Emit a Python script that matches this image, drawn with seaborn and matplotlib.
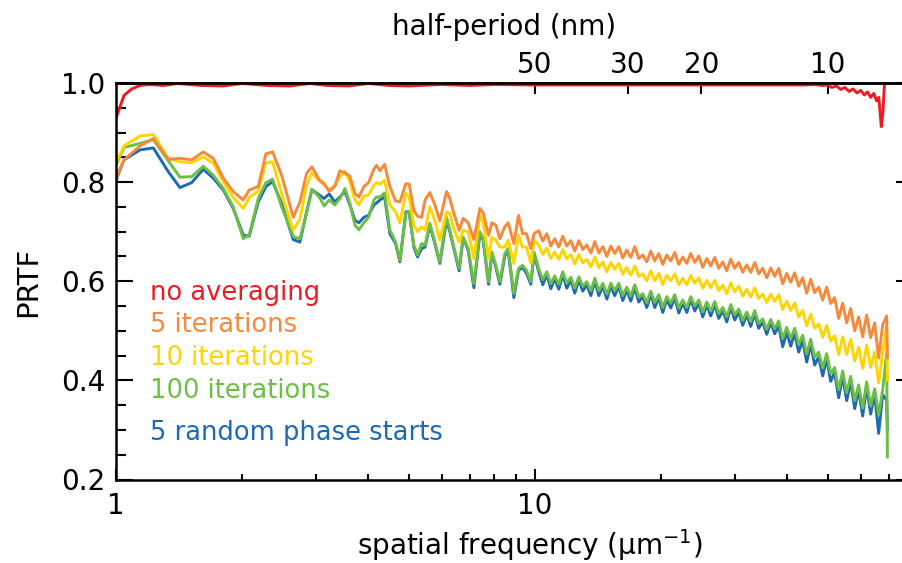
import numpy as np
import pandas as pd
import matplotlib
matplotlib.use("Agg")
import matplotlib.pyplot as plt
import seaborn as sns
from matplotlib.ticker import NullLocator, NullFormatter

# ---------------- data ----------------
freq = [
    1.000, 1.045, 1.141, 1.228, 1.333, 1.421, 1.516, 1.616, 1.707, 1.804,
    1.905, 2.013, 2.080, 2.186, 2.280, 2.366, 2.486,
    2.650, 2.749, 2.852, 2.936, 3.056, 3.141, 3.229, 3.332, 3.425, 3.520,
    3.618, 3.720, 3.802, 3.907, 4.009, 4.128, 4.190, 4.267, 4.379, 4.508,
    4.652, 4.763, 4.922, 5.012, 5.143, 5.249, 5.366, 5.471, 5.614, 5.772,
    5.933, 6.156,
    6.268, 6.408, 6.597, 6.744, 6.931, 7.154, 7.394, 7.529, 7.756, 7.898,
    8.073, 8.253, 8.481, 8.637, 8.912, 9.145, 9.346, 9.554, 9.783, 9.961,
    10.22, 10.45, 10.68, 10.92, 11.16, 11.41, 11.66, 11.92, 12.19, 12.46,
    12.74, 13.02, 13.31, 13.61, 13.91, 14.22, 14.54, 14.86, 15.19, 15.52,
    15.87, 16.22, 16.58, 16.95, 17.33, 17.71, 18.11, 18.51, 18.92, 19.34,
    19.77, 20.21, 20.66, 21.12, 21.59, 22.07, 22.56, 23.06, 23.57, 24.10,
    24.63, 25.18, 25.74, 26.31, 26.90, 27.49, 28.11, 28.73, 29.37, 30.02,
    30.69, 31.37, 32.07, 32.78, 33.51, 34.25, 35.02, 35.79, 36.59, 37.40,
    38.23, 39.08, 39.95, 40.84, 41.75, 42.67, 43.62, 44.59, 45.58, 46.59,
    47.63, 48.69, 49.77, 50.87, 52.00, 53.16, 54.34, 55.55, 56.78, 58.05,
    59.34, 60.66, 62.00, 63.38, 64.79, 66.23, 67.70, 69.21, 69.50,
]

prtf_5_iterations = [
    0.808, 0.845, 0.873, 0.888, 0.846, 0.848, 0.845, 0.861, 0.848, 0.808,
    0.781, 0.764, 0.784, 0.791, 0.857, 0.861, 0.814,
    0.729, 0.760, 0.818, 0.831, 0.805, 0.797, 0.781, 0.792, 0.823, 0.819,
    0.812, 0.777, 0.770, 0.791, 0.799, 0.826, 0.834, 0.823, 0.836, 0.791,
    0.762, 0.760, 0.797, 0.796, 0.743, 0.731, 0.729, 0.764, 0.779, 0.754,
    0.722, 0.781,
    0.767, 0.737, 0.703, 0.727, 0.718, 0.684, 0.747, 0.738, 0.693, 0.718,
    0.713, 0.686, 0.710, 0.718, 0.676, 0.733, 0.696, 0.696, 0.666, 0.696,
    0.702, 0.681, 0.696, 0.671, 0.686, 0.669, 0.691, 0.671, 0.682, 0.661,
    0.682, 0.664, 0.673, 0.657, 0.680, 0.657, 0.670, 0.650, 0.671, 0.656,
    0.670, 0.647, 0.663, 0.648, 0.670, 0.646, 0.653, 0.639, 0.661, 0.641,
    0.656, 0.634, 0.653, 0.641, 0.658, 0.634, 0.649, 0.636, 0.656, 0.638,
    0.651, 0.628, 0.646, 0.631, 0.648, 0.626, 0.639, 0.621, 0.645, 0.626,
    0.638, 0.618, 0.633, 0.618, 0.638, 0.615, 0.626, 0.607, 0.627, 0.610,
    0.626, 0.595, 0.616, 0.598, 0.617, 0.590, 0.607, 0.576, 0.604, 0.577,
    0.588, 0.562, 0.588, 0.555, 0.567, 0.525, 0.556, 0.516, 0.545, 0.500,
    0.528, 0.488, 0.532, 0.486, 0.516, 0.445, 0.512, 0.530, 0.445,
]

prtf_10_iterations = [
    0.838, 0.873, 0.893, 0.896, 0.848, 0.841, 0.839, 0.851, 0.838, 0.801,
    0.769, 0.747, 0.769, 0.782, 0.839, 0.841, 0.777,
    0.703, 0.725, 0.794, 0.818, 0.803, 0.794, 0.784, 0.794, 0.811, 0.821,
    0.801, 0.764, 0.754, 0.772, 0.774, 0.794, 0.799, 0.796, 0.804, 0.754,
    0.740, 0.718, 0.778, 0.770, 0.713, 0.700, 0.710, 0.703, 0.750, 0.723,
    0.683, 0.740,
    0.737, 0.706, 0.679, 0.703, 0.700, 0.646, 0.733, 0.720, 0.646, 0.689,
    0.683, 0.669, 0.669, 0.683, 0.636, 0.693, 0.669, 0.669, 0.636, 0.683,
    0.673, 0.654, 0.667, 0.646, 0.659, 0.644, 0.664, 0.645, 0.654, 0.635,
    0.654, 0.637, 0.644, 0.629, 0.649, 0.627, 0.639, 0.619, 0.638, 0.624,
    0.636, 0.614, 0.628, 0.612, 0.631, 0.610, 0.615, 0.601, 0.621, 0.601,
    0.616, 0.593, 0.612, 0.601, 0.615, 0.593, 0.606, 0.593, 0.612, 0.596,
    0.607, 0.586, 0.602, 0.587, 0.602, 0.581, 0.592, 0.575, 0.597, 0.579,
    0.590, 0.570, 0.584, 0.568, 0.587, 0.565, 0.574, 0.557, 0.574, 0.559,
    0.573, 0.543, 0.560, 0.541, 0.556, 0.528, 0.541, 0.510, 0.534, 0.505,
    0.514, 0.487, 0.511, 0.479, 0.490, 0.452, 0.488, 0.452, 0.483, 0.439,
    0.467, 0.424, 0.471, 0.426, 0.457, 0.395, 0.455, 0.510, 0.400,
]

prtf_100_iterations = [
    0.834, 0.870, 0.878, 0.886, 0.843, 0.810, 0.811, 0.832, 0.814, 0.787,
    0.750, 0.686, 0.693, 0.767, 0.799, 0.806, 0.750,
    0.690, 0.686, 0.737, 0.785, 0.770, 0.752, 0.764, 0.754, 0.767, 0.787,
    0.757, 0.713, 0.704, 0.718, 0.729, 0.764, 0.770, 0.770, 0.778, 0.703,
    0.679, 0.642, 0.737, 0.740, 0.673, 0.653, 0.676, 0.673, 0.717, 0.679,
    0.639, 0.729,
    0.703, 0.669, 0.626, 0.689, 0.666, 0.595, 0.700, 0.686, 0.599, 0.659,
    0.632, 0.599, 0.656, 0.666, 0.575, 0.626, 0.632, 0.622, 0.599, 0.659,
    0.625, 0.603, 0.619, 0.595, 0.611, 0.594, 0.619, 0.596, 0.608, 0.586,
    0.609, 0.590, 0.599, 0.581, 0.606, 0.581, 0.596, 0.574, 0.596, 0.581,
    0.596, 0.571, 0.588, 0.570, 0.593, 0.568, 0.575, 0.557, 0.580, 0.557,
    0.573, 0.547, 0.569, 0.556, 0.573, 0.546, 0.562, 0.547, 0.569, 0.550,
    0.562, 0.538, 0.558, 0.540, 0.559, 0.535, 0.547, 0.528, 0.553, 0.532,
    0.544, 0.521, 0.538, 0.519, 0.541, 0.515, 0.524, 0.503, 0.523, 0.504,
    0.520, 0.484, 0.507, 0.485, 0.505, 0.473, 0.491, 0.453, 0.483, 0.447,
    0.457, 0.425, 0.454, 0.414, 0.426, 0.381, 0.419, 0.375, 0.408, 0.359,
    0.391, 0.344, 0.397, 0.348, 0.383, 0.330, 0.381, 0.455, 0.245,
]

prtf_5_random_starts = [
    0.804, 0.845, 0.865, 0.869, 0.821, 0.789, 0.799, 0.826, 0.808, 0.784,
    0.747, 0.693, 0.691, 0.760, 0.791, 0.801, 0.757,
    0.684, 0.679, 0.740, 0.785, 0.774, 0.767, 0.776, 0.760, 0.770, 0.781,
    0.754, 0.723, 0.718, 0.729, 0.733, 0.754, 0.758, 0.764, 0.770, 0.696,
    0.676, 0.639, 0.740, 0.740, 0.669, 0.649, 0.666, 0.669, 0.713, 0.676,
    0.636, 0.723,
    0.700, 0.666, 0.621, 0.688, 0.663, 0.587, 0.696, 0.683, 0.594, 0.656,
    0.628, 0.594, 0.651, 0.663, 0.567, 0.622, 0.628, 0.616, 0.594, 0.655,
    0.619, 0.593, 0.613, 0.585, 0.605, 0.584, 0.613, 0.586, 0.602, 0.576,
    0.603, 0.580, 0.593, 0.571, 0.600, 0.571, 0.590, 0.564, 0.590, 0.571,
    0.590, 0.561, 0.582, 0.560, 0.587, 0.558, 0.569, 0.547, 0.574, 0.547,
    0.567, 0.537, 0.563, 0.546, 0.567, 0.536, 0.556, 0.537, 0.563, 0.540,
    0.556, 0.528, 0.552, 0.530, 0.553, 0.525, 0.541, 0.518, 0.547, 0.522,
    0.538, 0.511, 0.532, 0.509, 0.535, 0.505, 0.518, 0.493, 0.517, 0.494,
    0.510, 0.468, 0.497, 0.469, 0.495, 0.457, 0.481, 0.437, 0.473, 0.431,
    0.447, 0.409, 0.444, 0.398, 0.416, 0.365, 0.409, 0.359, 0.398, 0.343,
    0.381, 0.328, 0.387, 0.332, 0.373, 0.293, 0.371, 0.360, 0.300,
]

freq_no_averaging = [
    1.000, 1.045, 1.090, 1.141, 1.200, 1.300, 1.400, 1.600, 1.800, 2.000,
    2.300, 2.600, 2.900, 3.200, 3.600, 4.000, 4.500, 5.000, 6.000, 7.000,
    8.000, 10.00, 13.00, 16.00, 20.00, 25.00, 30.00, 35.00, 40.00, 44.00,
    47.00, 48.50, 50.00, 51.20, 52.50, 53.80, 55.00, 56.30, 57.50, 58.80,
    60.00, 61.20, 62.30, 63.40, 64.50, 65.50, 66.30, 67.20, 67.80, 68.40,
    69.50,
]
prtf_no_averaging = [
    0.929, 0.975, 0.988, 0.995, 0.997, 0.995, 0.999, 0.995, 0.994, 0.999,
    0.995, 0.994, 0.999, 0.995, 0.994, 0.999, 0.995, 0.994, 0.997, 0.995,
    0.997, 0.996, 0.996, 0.996, 0.996, 0.996, 0.996, 0.996, 0.996, 0.996,
    0.997, 0.995, 0.996, 0.991, 0.994, 0.987, 0.991, 0.983, 0.988, 0.980,
    0.985, 0.976, 0.982, 0.971, 0.979, 0.964, 0.971, 0.912, 0.940, 0.999,
    0.999,
]

series_names = ["no averaging", "5 iterations", "10 iterations",
                "100 iterations", "5 random phase starts"]
series_colors = ["#ED1C24", "#F7893B", "#FFD500", "#6DBE45", "#1B6AB3"]

halfperiod_ticks_nm = [50, 30, 20, 10]
x_major = [1, 10]
x_minor = [2, 3, 4, 5, 6, 7, 8, 9, 20, 30, 40, 50, 60, 70, 80]
y_major = [0.2, 0.4, 0.6, 0.8, 1.0]
y_minor = [0.25, 0.3, 0.35, 0.45, 0.5, 0.55, 0.65, 0.7, 0.75, 0.85, 0.9, 0.95]

# ---------------- build long table ----------------
frames = [pd.DataFrame({"freq": freq_no_averaging, "prtf": prtf_no_averaging,
                        "series": series_names[0]})]
for name, vals in zip(series_names[1:], [prtf_5_iterations, prtf_10_iterations,
                                         prtf_100_iterations, prtf_5_random_starts]):
    assert len(vals) == len(freq), (name, len(vals), len(freq))
    frames.append(pd.DataFrame({"freq": freq, "prtf": vals, "series": name}))
df = pd.concat(frames, ignore_index=True)

palette = dict(zip(series_names, series_colors))
draw_order = ["5 random phase starts", "100 iterations", "10 iterations",
              "5 iterations", "no averaging"]

# ---------------- style ----------------
sns.set_theme(style="ticks")
plt.rcParams["font.family"] = ["DejaVu Sans"]
plt.rcParams["axes.linewidth"] = 1.8
plt.rcParams["axes.edgecolor"] = "black"

W, H = 902, 563
fig = plt.figure(figsize=(W / 100, H / 100), dpi=100)
ax_left, ax_right, ax_top, ax_bottom = 116, 913, 83, 479.5
ax = fig.add_axes([ax_left / W, (H - ax_bottom) / H,
                   (ax_right - ax_left) / W, (ax_bottom - ax_top) / H])

sns.lineplot(data=df, x="freq", y="prtf", hue="series", hue_order=draw_order,
             palette=palette, estimator=None, linewidth=2.1, legend=False, ax=ax)

ax.set_xscale("log")
ax.set_xlim(1, 80)
ax.set_ylim(0.2, 1.0)

ax.set_xticks(x_major, [str(v) for v in x_major])
ax.set_xticks(x_minor, minor=True)
ax.xaxis.set_minor_formatter(NullFormatter())
ax.set_yticks(y_major, [f"{v:.1f}" for v in y_major])
ax.set_yticks(y_minor, minor=True)

ax.tick_params(axis="x", which="both", direction="in", top=False, bottom=True,
               width=1.5, labelsize=20, pad=9, colors="black")
ax.tick_params(axis="x", which="major", length=8)
ax.tick_params(axis="x", which="minor", length=4.5)
ax.tick_params(axis="y", which="both", direction="in", left=True, right=True,
               width=1.5, labelsize=20, pad=8, colors="black")
ax.tick_params(axis="y", which="major", length=12)
ax.tick_params(axis="y", which="minor", length=7)

for s in ax.spines.values():
    s.set_visible(True)
    s.set_linewidth(1.8)
    s.set_color("black")

ax.set_xlabel("spatial frequency (μm$^{-1}$)", fontsize=20, color="black")
ax.xaxis.set_label_coords(0.519, -0.165)
ax.xaxis.label.set_verticalalignment("center")
ax.set_ylabel("PRTF", fontsize=21, color="black")
ax.yaxis.set_label_coords(-0.110, 0.498)
ax.yaxis.label.set_verticalalignment("center")

# top axis: half-period in nm
sec = ax.secondary_xaxis("top", functions=(lambda f: 500.0 / f, lambda h: 500.0 / h))
sec.set_xticks(halfperiod_ticks_nm, [str(h) for h in halfperiod_ticks_nm])
sec.xaxis.set_minor_locator(NullLocator())
sec.tick_params(axis="x", which="major", direction="in", length=8, width=1.5,
                labelsize=20, pad=3, colors="black")
sec.spines["top"].set_linewidth(1.8)
sec.set_xlabel("half-period (nm)", fontsize=20, color="black")
sec.xaxis.set_label_coords(0.487, 1.140, transform=ax.transAxes)
sec.xaxis.label.set_verticalalignment("center")

# coloured legend text
legend_y = [0.471, 0.390, 0.307, 0.224, 0.118]
for name, color, yy in zip(series_names, series_colors, legend_y):
    ax.text(0.0427, yy, name, color=color, fontsize=18.5, transform=ax.transAxes,
            ha="left", va="center")

fig.savefig("out.png", dpi=100)
